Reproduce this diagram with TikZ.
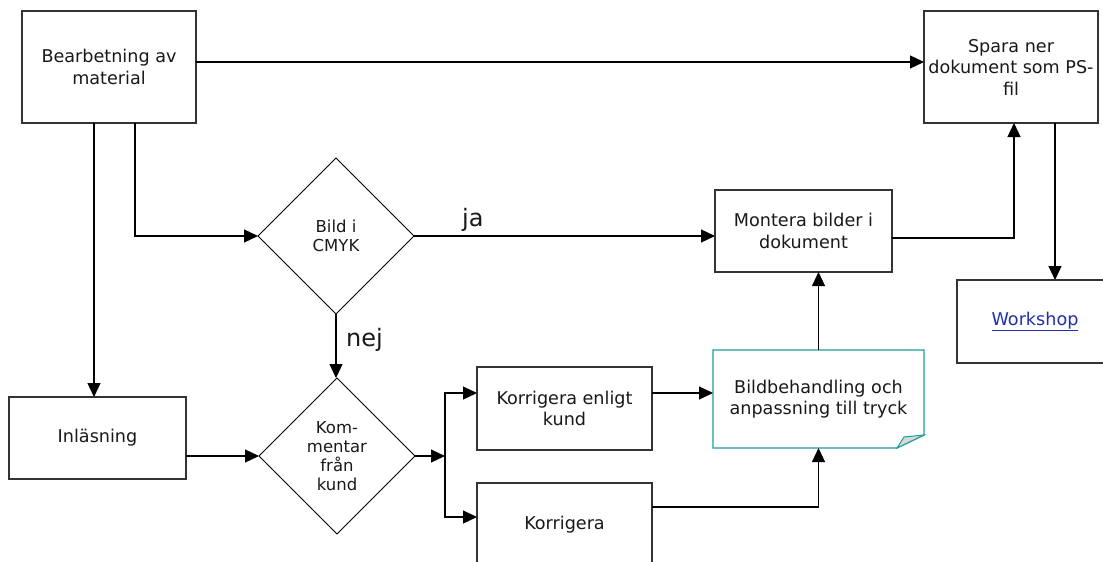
\documentclass[tikz,border=0pt]{standalone}
\usepackage{fontspec}
\setmainfont{DejaVu Sans}
\usetikzlibrary{shapes.geometric,arrows.meta,calc}
\definecolor{edge}{HTML}{333333}
\definecolor{notecol}{HTML}{1A9E9A}
\definecolor{linkblue}{HTML}{1F2FB0}
\definecolor{foldgray}{HTML}{D9D9D9}

\begin{document}
\begin{tikzpicture}[x=1pt,y=-1pt,
  box/.style={draw=edge,line width=1.3pt,fill=white,inner sep=0pt,outer sep=0pt,
    align=center,font=\fontsize{17.6}{21.5}\selectfont,text=black!90},
  dia/.style={draw=black,line width=0.9pt,shape=diamond,inner sep=0pt,outer sep=0pt,
    minimum width=156pt,minimum height=156pt,align=center,
    font=\fontsize{16.5}{19}\selectfont,text=black!90},
  conn/.style={draw=black,line width=1.2pt,-{Triangle[length=14pt,width=13pt]}},
  lbl/.style={font=\fontsize{24}{28}\selectfont,inner sep=0pt,anchor=base west,text=black!90}]

\useasboundingbox (0,0) rectangle (1103,562);

% process boxes
\node[box,minimum width=174pt,minimum height=112pt] (bear) at (109,67) {Bearbetning av\\material};
\node[box,minimum width=174pt,minimum height=112pt] (spara) at (1011,67) {Spara ner\\dokument som PS-\\fil};
\node[box,minimum width=177pt,minimum height=82pt] (mont) at (803.5,231) {Montera bilder i\\dokument};
\node[box,minimum width=156pt,minimum height=83pt] (ws) at (1035,321.5) {\textcolor{linkblue}{\underline{Workshop}}};
\node[box,minimum width=177pt,minimum height=82pt] (inl) at (97.5,438) {Inläsning};
\node[box,minimum width=175pt,minimum height=83pt] (ke) at (564.5,408.5) {Korrigera enligt\\kund};
\node[box,minimum width=175pt,minimum height=83pt] (kor) at (564.5,524.5) {Korrigera};

% note with folded corner
\node[box,draw=none,fill=none,minimum width=211pt,minimum height=98pt] (bild) at (818.5,399) {Bildbehandling och\\anpassning till tryck};
\draw[notecol,line width=1.2pt] (bild.north west) -- (bild.north east) -- ([yshift=13pt]bild.south east)
  -- ([xshift=-27pt]bild.south east) -- (bild.south west) -- cycle;
\draw[notecol,line width=1pt,fill=foldgray] ([xshift=-27pt]bild.south east) -- ([xshift=-20pt,yshift=11pt]bild.south east)
  -- ([yshift=13pt]bild.south east) -- cycle;

% decisions
\node[dia] (d1) at (336,236) {Bild i\\CMYK};
\node[dia] (d2) at (337,456) {Kom-\\mentar\\från\\kund};

% connectors
\draw[conn] ([yshift=5pt]bear.east) -- ([yshift=5pt]spara.west);
\draw[conn] ([xshift=-15pt]bear.south) -- ([xshift=-15pt]bear.south |- inl.north);
\draw[conn] ([xshift=26pt]bear.south) |- (d1.west);
\draw[conn] (d1.east) -- (d1.east -| mont.west);
\node[lbl] (ja) at (462,226) {ja};
\draw[conn] (d1.south) -- (d1.south |- d2.north);
\node[lbl] (nej) at (346,346) {nej};
\draw[conn] (d2.west -| inl.east) -- (d2.west);
\coordinate (sp) at (445,456);
\draw[conn] (d2.east) -- (sp);
\draw[conn] (sp) |- ([yshift=15.5pt]ke.west);
\draw[conn] (sp) |- ([yshift=7.5pt]kor.west);
\draw[conn] ([yshift=15.5pt]ke.east) -- ([yshift=15.5pt]ke.east -| bild.west);
\draw[conn] ([yshift=17.5pt]kor.east) -| (bild.south);
\draw[conn,line width=0.9pt] (bild.north) -- (bild.north |- mont.south);
\draw[conn] ([yshift=-7pt]mont.east) -| ([xshift=3pt]spara.south);
\draw[conn] ([xshift=44pt]spara.south) -- ([xshift=44pt]spara.south |- ws.north);
\end{tikzpicture}
\end{document}
